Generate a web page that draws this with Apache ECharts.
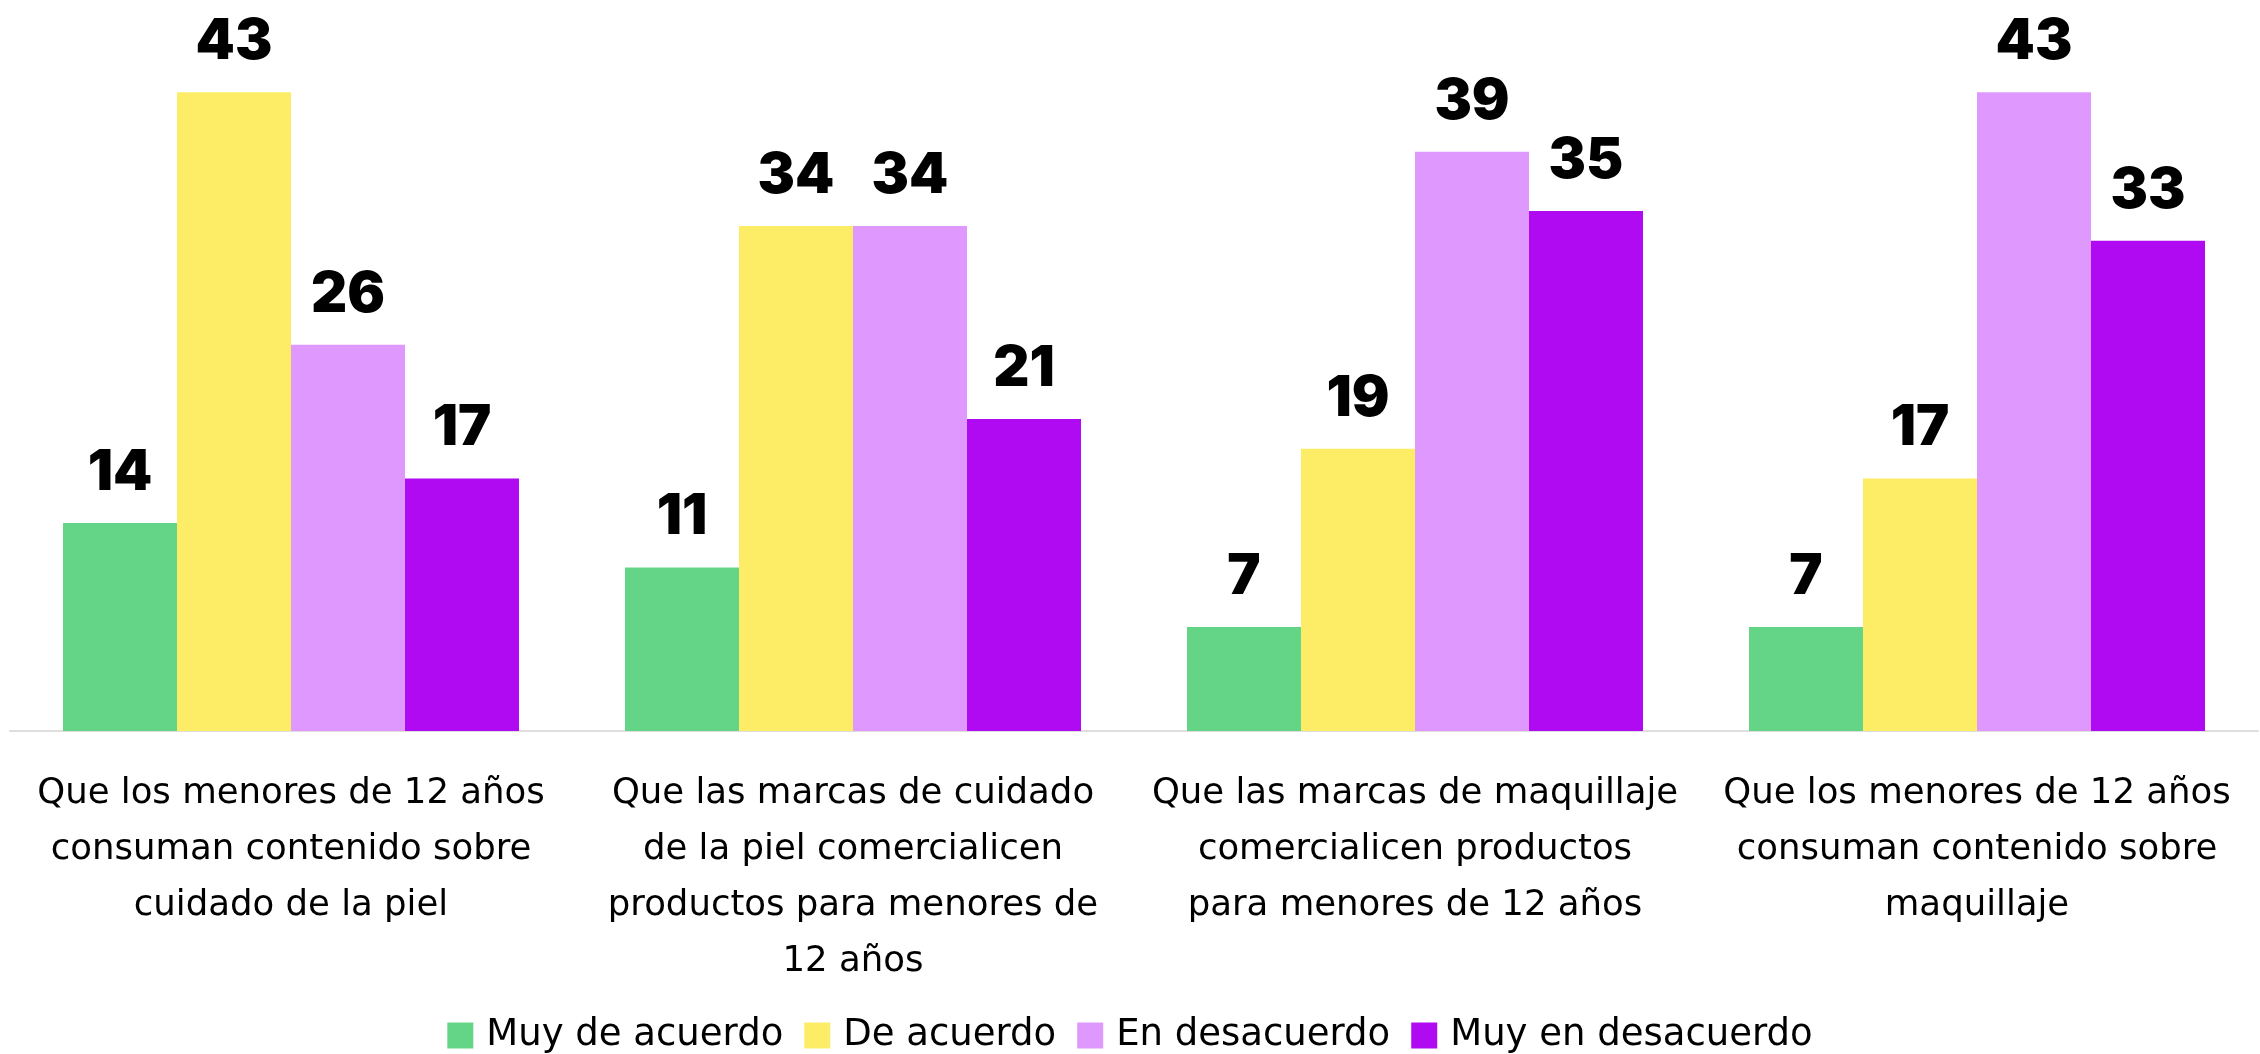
<!DOCTYPE html>
<html>
<head>
<meta charset="utf-8">
<script src="https://cdn.jsdelivr.net/npm/echarts@6/dist/echarts.min.js"></script>
<style>
  html, body { margin: 0; padding: 0; background: #ffffff; }
  #chart { width: 2260px; height: 1054px; }
</style>
</head>
<body>
<div id="chart"></div>
<script>
// Survey statements (x-axis categories), pre-wrapped as printed
const categories = [
  'Que los menores de 12 años\nconsuman contenido sobre\ncuidado de la piel',
  'Que las marcas de cuidado\nde la piel comercialicen\nproductos para menores de\n12 años',
  'Que las marcas de maquillaje\ncomercialicen productos\npara menores de 12 años',
  'Que los menores de 12 años\nconsuman contenido sobre\nmaquillaje'
];

// Response levels (legend order)
const seriesNames = ['Muy de acuerdo', 'De acuerdo', 'En desacuerdo', 'Muy en desacuerdo'];

// Percentages per statement, one array per response level
const muyDeAcuerdo     = [14, 11, 7, 7];
const deAcuerdo        = [43, 34, 19, 17];
const enDesacuerdo     = [26, 34, 39, 43];
const muyEnDesacuerdo  = [17, 21, 35, 33];

const seriesValues = [muyDeAcuerdo, deAcuerdo, enDesacuerdo, muyEnDesacuerdo];
const seriesColors = ['#64d486', '#fcec66', '#df99fe', '#b00af3'];

const TEXT_FONT = '"DejaVu Sans", "Open Sans", sans-serif';
const NUM_FONT = 'Inter, "Open Sans", "Noto Sans", sans-serif';

const chart = echarts.init(document.getElementById('chart'), null, { renderer: 'canvas' });

chart.setOption({
  backgroundColor: '#ffffff',
  animation: false,
  grid: { left: 10, right: 2, top: 18, bottom: 323, containLabel: false },
  legend: {
    data: seriesNames,
    left: 'center',
    top: 1012,
    icon: 'rect',
    itemWidth: 26,
    itemHeight: 26,
    itemGap: 21,
    textStyle: { fontFamily: TEXT_FONT, fontSize: 37, color: '#000000', padding: [0, 0, 0, 8] }
  },
  xAxis: {
    type: 'category',
    data: categories,
    axisLine: { show: true, lineStyle: { color: '#dedede', width: 2 } },
    axisTick: { show: false },
    axisLabel: {
      interval: 0,
      margin: 35,
      fontFamily: TEXT_FONT,
      fontSize: 35.5,
      lineHeight: 56,
      color: '#000000'
    }
  },
  yAxis: {
    type: 'value',
    min: 0,
    max: 48,
    show: false,
    splitLine: { show: false }
  },
  series: seriesNames.map((name, i) => ({
    name: name,
    type: 'bar',
    data: seriesValues[i],
    barWidth: 114,
    barGap: '0%',
    itemStyle: { color: seriesColors[i] },
    label: {
      show: true,
      position: 'top',
      distance: 22,
      fontFamily: NUM_FONT,
      fontSize: 56,
      fontWeight: 900,
      color: '#000000'
    }
  }))
});
</script>
</body>
</html>
